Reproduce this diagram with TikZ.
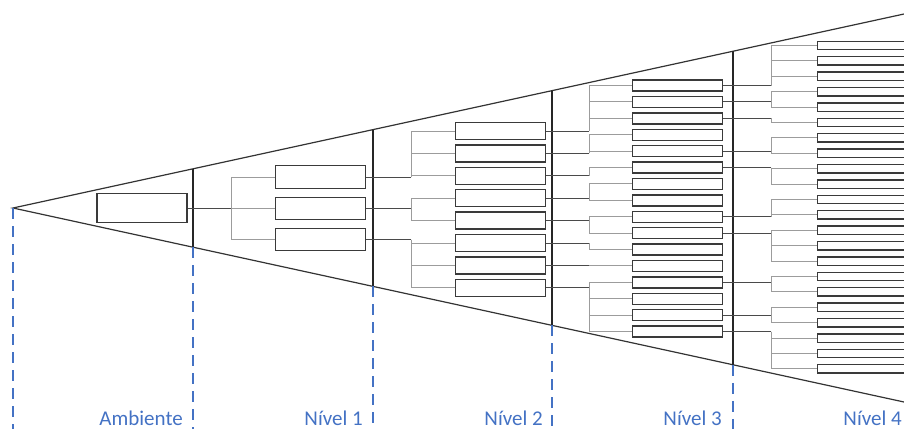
\documentclass[tikz,border=0pt]{standalone}
\usepackage{fontspec}
\setmainfont{Carlito}
\usetikzlibrary{calc}
\definecolor{guideblue}{HTML}{4472C4}
\definecolor{boxline}{HTML}{3A3A3A}
\definecolor{trunkgray}{HTML}{4A4A4A}
\definecolor{branchgray}{HTML}{9C9C9C}
\begin{document}
\begin{tikzpicture}[x=1pt,y=-1pt,
  cone/.style={draw=black!80, line width=1.2pt},
  divider/.style={draw=black!85, line width=1.8pt},
  guide/.style={draw=guideblue, line width=1.3pt, dash pattern=on 11pt off 7pt},
  trunk/.style={draw=trunkgray, line width=1pt},
  branch/.style={draw=branchgray, line width=1pt},
  unitbox/.style={draw=boxline, line width=1.4pt, fill=white, inner sep=0pt, minimum width=90pt},
  lbl/.style={text=guideblue, font=\fontsize{21}{25}\selectfont, anchor=base east, inner sep=0pt},
]
\useasboundingbox (0,0) rectangle (904,429);
\clip (0,0) rectangle (904,429);

% cone
\coordinate (apex) at (13,208);
\coordinate (tr) at (904,14);
\coordinate (br) at (904,402);
\coordinate (base) at (0,429);
\draw[cone] (tr) -- (apex) -- (br);

% level dividers
\foreach \n/\x in {1/193, 2/373, 3/552, 4/733} {
  \coordinate (v\n t) at ($(apex)!{(\x-13)/891}!(tr)$);
  \coordinate (v\n b) at ($(apex)!{(\x-13)/891}!(br)$);
  \draw[divider] (v\n t) -- (v\n b);
  \draw[guide] (v\n b) -- (v\n b |- base);
}
\draw[guide] (apex) -- (apex |- base);

% bracket columns
\coordinate (k1) at (231,0);
\coordinate (k2) at (411,0);
\coordinate (k3) at (589,0);
\coordinate (k4) at (771,0);

% boxes
\node[unitbox, minimum height=28.5pt] (a) at (142,208) {};
\foreach \i/\y in {1/177, 2/208.5, 3/239.5}
  \node[unitbox, minimum height=22.5pt] (b\i) at (320.5,\y) {};
\foreach \i in {1,...,8}
  \node[unitbox, minimum height=17pt] (c\i) at (500.5,{131+22.4*(\i-1)}) {};
\foreach \i in {1,...,16}
  \node[unitbox, minimum height=11pt] (d\i) at (677.5,{85.5+16.4*(\i-1)}) {};
\foreach \i in {1,...,22}
  \node[unitbox, minimum height=8.5pt] (e\i) at (862.5,{45.5+15.4*(\i-1)}) {};

% connectors: parent to bracket column
\foreach \p/\k in {a/k1, b1/k2, b2/k2, b3/k2,
    c1/k3, c2/k3, c3/k3, c4/k3, c5/k3, c6/k3, c7/k3, c8/k3,
    d1/k4, d2/k4, d3/k4, d5/k4, d6/k4, d9/k4, d10/k4, d13/k4, d15/k4, d16/k4}
  \draw[trunk] (\p.east) -- (\p.east -| \k);

% connectors: bracket column to children
\foreach \p/\c/\k in {a/b1/k1, a/b2/k1, a/b3/k1,
    b1/c1/k2, b1/c2/k2, b1/c3/k2, b2/c4/k2, b2/c5/k2, b3/c6/k2, b3/c7/k2, b3/c8/k2,
    c1/d1/k3, c1/d2/k3, c1/d3/k3, c2/d4/k3, c2/d5/k3, c3/d6/k3, c4/d7/k3, c4/d8/k3,
    c5/d9/k3, c5/d10/k3, c6/d11/k3, c7/d12/k3,
    c8/d13/k3, c8/d14/k3, c8/d15/k3, c8/d16/k3,
    d1/e1/k4, d1/e2/k4, d1/e3/k4, d2/e4/k4, d2/e5/k4, d3/e6/k4,
    d5/e7/k4, d5/e8/k4, d6/e9/k4, d6/e10/k4, d9/e11/k4, d9/e12/k4,
    d10/e13/k4, d10/e14/k4, d10/e15/k4, d13/e16/k4, d13/e17/k4,
    d15/e18/k4, d15/e19/k4, d16/e20/k4, d16/e21/k4, d16/e22/k4}
  \draw[branch] (\p.east -| \k) |- (\c.west);

% level labels
\node[lbl] (l0) at (183,425) {Ambiente};
\node[lbl] (l1) at (363,425) {Nível 1};
\node[lbl] (l2) at (543,425) {Nível 2};
\node[lbl] (l3) at (722,425) {Nível 3};
\node[lbl] (l4) at (902,425) {Nível 4};
\end{tikzpicture}
\end{document}
